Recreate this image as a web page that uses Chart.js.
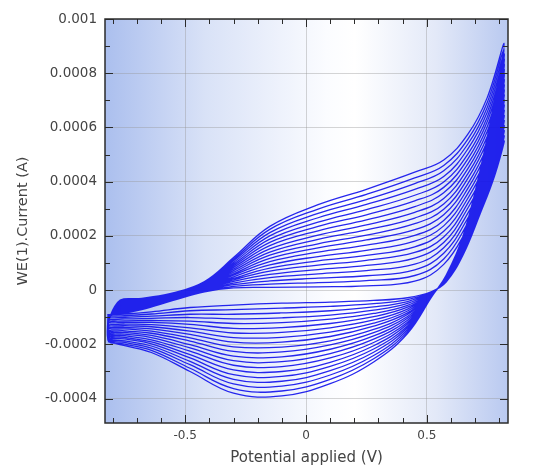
<!DOCTYPE html>
<html>
<head>
<meta charset="utf-8">
<script src="https://cdn.jsdelivr.net/npm/chart.js@4.4.0/dist/chart.umd.min.js"></script>
<style>
  html, body { margin: 0; padding: 0; background: #fff; }
</style>
</head>
<body>
<canvas id="cvChart" width="549" height="467"></canvas>
<script>
// Potential grid (V) for the anodic (forward) and cathodic (reverse) sweeps
const forwardPotential = [-0.78, -0.68, -0.55, -0.42, -0.3, -0.15, 0.05, 0.25, 0.45, 0.57, 0.67, 0.75, 0.82];
const reversePotential = [0.78, 0.72, 0.65, 0.58, 0.52, 0.42, 0.28, 0.1, -0.1, -0.3, -0.48, -0.64, -0.75, -0.82];

// Current in units of 1e-4 A, one row per cycle (first cycle = innermost loop)
const anodicCurrent = [
  [-0.90, -0.72, -0.38, -0.06, 0.08, 0.10, 0.12, 0.16, 0.33, 0.95, 2.30, 3.70, 5.50],
  [-0.88, -0.70, -0.37, -0.04, 0.14, 0.22, 0.28, 0.35, 0.54, 1.15, 2.48, 3.88, 5.69],
  [-0.86, -0.68, -0.35, -0.02, 0.20, 0.34, 0.44, 0.53, 0.75, 1.36, 2.66, 4.06, 5.88],
  [-0.84, -0.66, -0.34, 0.00, 0.26, 0.46, 0.60, 0.72, 0.96, 1.56, 2.84, 4.24, 6.07],
  [-0.81, -0.63, -0.32, 0.02, 0.32, 0.58, 0.76, 0.91, 1.18, 1.76, 3.03, 4.42, 6.26],
  [-0.79, -0.61, -0.31, 0.04, 0.38, 0.70, 0.92, 1.10, 1.39, 1.96, 3.21, 4.59, 6.45],
  [-0.76, -0.59, -0.29, 0.06, 0.43, 0.81, 1.08, 1.28, 1.60, 2.17, 3.39, 4.77, 6.64],
  [-0.74, -0.57, -0.28, 0.08, 0.49, 0.93, 1.24, 1.47, 1.81, 2.37, 3.57, 4.95, 6.83],
  [-0.72, -0.54, -0.26, 0.10, 0.55, 1.05, 1.40, 1.66, 2.02, 2.57, 3.75, 5.13, 7.02],
  [-0.69, -0.52, -0.25, 0.12, 0.60, 1.17, 1.56, 1.85, 2.23, 2.78, 3.93, 5.31, 7.21],
  [-0.67, -0.50, -0.23, 0.14, 0.66, 1.29, 1.71, 2.03, 2.45, 2.98, 4.12, 5.49, 7.39],
  [-0.64, -0.48, -0.22, 0.16, 0.72, 1.40, 1.87, 2.22, 2.66, 3.18, 4.30, 5.67, 7.58],
  [-0.62, -0.45, -0.20, 0.18, 0.78, 1.52, 2.03, 2.41, 2.87, 3.38, 4.48, 5.85, 7.77],
  [-0.60, -0.43, -0.19, 0.20, 0.84, 1.64, 2.19, 2.59, 3.08, 3.59, 4.66, 6.03, 7.96],
  [-0.57, -0.41, -0.17, 0.22, 0.90, 1.76, 2.35, 2.78, 3.29, 3.79, 4.84, 6.21, 8.15],
  [-0.55, -0.39, -0.16, 0.24, 0.96, 1.88, 2.51, 2.97, 3.50, 3.99, 5.02, 6.38, 8.34],
  [-0.52, -0.37, -0.14, 0.26, 1.02, 2.00, 2.67, 3.16, 3.72, 4.19, 5.21, 6.56, 8.53],
  [-0.50, -0.35, -0.13, 0.28, 1.08, 2.12, 2.83, 3.34, 3.93, 4.40, 5.39, 6.74, 8.72],
  [-0.48, -0.32, -0.11, 0.30, 1.14, 2.24, 2.99, 3.53, 4.14, 4.60, 5.57, 6.92, 8.91],
  [-0.45, -0.30, -0.10, 0.32, 1.20, 2.35, 3.15, 3.72, 4.35, 4.80, 5.75, 7.10, 9.10],
];

const cathodicCurrent = [
  [4.20, 2.80, 1.30, 0.30, -0.05, -0.28, -0.38, -0.44, -0.48, -0.55, -0.64, -0.80, -0.88, -0.90],
  [4.35, 2.88, 1.34, 0.31, -0.06, -0.35, -0.50, -0.60, -0.66, -0.72, -0.76, -0.88, -0.94, -0.95],
  [4.49, 2.97, 1.37, 0.33, -0.07, -0.42, -0.62, -0.76, -0.84, -0.89, -0.89, -0.96, -1.00, -1.01],
  [4.64, 3.05, 1.41, 0.34, -0.08, -0.49, -0.74, -0.92, -1.02, -1.06, -1.01, -1.04, -1.06, -1.06],
  [4.79, 3.14, 1.45, 0.35, -0.09, -0.56, -0.86, -1.07, -1.20, -1.23, -1.14, -1.12, -1.13, -1.11],
  [4.94, 3.22, 1.48, 0.37, -0.10, -0.63, -0.98, -1.23, -1.38, -1.41, -1.26, -1.19, -1.19, -1.16],
  [5.08, 3.31, 1.52, 0.38, -0.11, -0.70, -1.10, -1.39, -1.56, -1.58, -1.39, -1.27, -1.25, -1.22],
  [5.23, 3.39, 1.56, 0.39, -0.12, -0.77, -1.22, -1.55, -1.74, -1.75, -1.51, -1.35, -1.31, -1.27],
  [5.38, 3.47, 1.59, 0.41, -0.13, -0.84, -1.33, -1.71, -1.92, -1.92, -1.63, -1.43, -1.37, -1.32],
  [5.53, 3.56, 1.63, 0.42, -0.14, -0.90, -1.45, -1.87, -2.10, -2.09, -1.76, -1.51, -1.43, -1.37],
  [5.67, 3.64, 1.67, 0.43, -0.16, -0.97, -1.57, -2.02, -2.28, -2.26, -1.88, -1.59, -1.50, -1.43],
  [5.82, 3.73, 1.71, 0.44, -0.17, -1.04, -1.69, -2.18, -2.46, -2.43, -2.01, -1.67, -1.56, -1.48],
  [5.97, 3.81, 1.74, 0.46, -0.18, -1.11, -1.81, -2.34, -2.64, -2.60, -2.13, -1.75, -1.62, -1.53],
  [6.12, 3.89, 1.78, 0.47, -0.19, -1.18, -1.93, -2.50, -2.82, -2.77, -2.25, -1.83, -1.68, -1.58],
  [6.26, 3.98, 1.82, 0.48, -0.20, -1.25, -2.05, -2.66, -3.00, -2.94, -2.38, -1.91, -1.74, -1.63],
  [6.41, 4.06, 1.85, 0.50, -0.21, -1.32, -2.17, -2.81, -3.18, -3.12, -2.50, -1.98, -1.80, -1.69],
  [6.56, 4.15, 1.89, 0.51, -0.22, -1.39, -2.29, -2.97, -3.36, -3.29, -2.63, -2.06, -1.87, -1.74],
  [6.71, 4.23, 1.93, 0.52, -0.23, -1.46, -2.41, -3.13, -3.54, -3.46, -2.75, -2.14, -1.93, -1.79],
  [6.85, 4.32, 1.96, 0.54, -0.24, -1.53, -2.53, -3.29, -3.72, -3.63, -2.88, -2.22, -1.99, -1.84],
  [7.00, 4.40, 2.00, 0.55, -0.25, -1.60, -2.65, -3.45, -3.90, -3.80, -3.00, -2.30, -2.05, -1.90],
];

// Axis ticks
const xMajorTicks = [-0.5, 0, 0.5];
const xMinorTicks = [-0.8, -0.7, -0.6, -0.4, -0.3, -0.2, -0.1, 0.1, 0.2, 0.3, 0.4, 0.6, 0.7, 0.8];
const yMajorTicks = [-0.0004, -0.0002, 0, 0.0002, 0.0004, 0.0006, 0.0008, 0.001];
const yMinorTicks = [-0.0003, -0.0001, 0.0001, 0.0003, 0.0005, 0.0007, 0.0009];

// Chain all cycles into one continuous trace, as the potentiostat records it
const cvPoints = [];
anodicCurrent.forEach((row, k) => {
  row.forEach((v, i) => cvPoints.push({ x: forwardPotential[i], y: v * 1e-4 }));
  cathodicCurrent[k].forEach((v, i) => cvPoints.push({ x: reversePotential[i], y: v * 1e-4 }));
});

// Blue-white-blue plot background
const plotBackground = {
  id: "plotBackground",
  beforeDraw(chart) {
    const { ctx, chartArea: a } = chart;
    const g = ctx.createLinearGradient(a.left, 0, a.right, 0);
    g.addColorStop(0, "#abbfee");
    g.addColorStop(0.25, "#d9e2f7");
    g.addColorStop(0.55, "#fbfcff");
    g.addColorStop(0.62, "#ffffff");
    g.addColorStop(0.82, "#e3e9f8");
    g.addColorStop(1, "#b9c9f0");
    ctx.save();
    ctx.fillStyle = g;
    ctx.fillRect(a.left, a.top, a.right - a.left, a.bottom - a.top);
    ctx.restore();
  },
};

// Frame with inward tick marks on all four sides
const frameTicks = {
  id: "frameTicks",
  afterDraw(chart) {
    const { ctx, chartArea: a, scales } = chart;
    ctx.save();
    ctx.strokeStyle = "#2b2b2b";
    ctx.lineWidth = 1;
    const mark = (vals, len) => {
      vals.forEach((v) => {
        const px = Math.round(scales.x.getPixelForValue(v)) + 0.5;
        ctx.beginPath();
        ctx.moveTo(px, a.bottom); ctx.lineTo(px, a.bottom - len);
        ctx.moveTo(px, a.top); ctx.lineTo(px, a.top + len);
        ctx.stroke();
      });
    };
    const markY = (vals, len) => {
      vals.forEach((v) => {
        const py = Math.round(scales.y.getPixelForValue(v)) + 0.5;
        ctx.beginPath();
        ctx.moveTo(a.left, py); ctx.lineTo(a.left + len, py);
        ctx.moveTo(a.right, py); ctx.lineTo(a.right - len, py);
        ctx.stroke();
      });
    };
    mark(xMajorTicks, 8);
    mark(xMinorTicks, 5);
    markY(yMajorTicks, 8);
    markY(yMinorTicks, 5);
    ctx.lineWidth = 1.5;
    ctx.strokeRect(a.left, a.top, a.right - a.left, a.bottom - a.top);
    ctx.restore();
  },
};

const fontFamily = "'DejaVu Sans', Verdana, sans-serif";

new Chart(document.getElementById("cvChart").getContext("2d"), {
  type: "line",
  data: {
    datasets: [
      {
        data: cvPoints,
        borderColor: "rgba(15, 15, 235, 0.9)",
        borderWidth: 1.3,
        pointRadius: 0,
        tension: 0.4,
        fill: false,
      },
    ],
  },
  options: {
    responsive: false,
    animation: false,
    layout: { padding: { left: 0, top: 19, right: 41, bottom: 0 } },
    plugins: { legend: { display: false }, tooltip: { enabled: false } },
    scales: {
      x: {
        type: "linear",
        min: -0.832,
        max: 0.836,
        afterBuildTicks: (s) => { s.ticks = xMajorTicks.map((v) => ({ value: v })); },
        afterFit: (s) => { s.height = 44; },
        grid: { color: "rgba(150, 150, 150, 0.4)", drawTicks: false },
        border: { display: false },
        ticks: { color: "#444", font: { family: fontFamily, size: 12 }, padding: 6, maxRotation: 0, callback: (v) => String(v) },
        title: {
          display: true,
          text: "Potential applied (V)",
          color: "#444",
          font: { family: fontFamily, size: 15 },
          padding: { top: 0, bottom: 0 },
        },
      },
      y: {
        type: "linear",
        min: -0.00049,
        max: 0.001,
        afterBuildTicks: (s) => { s.ticks = yMajorTicks.map((v) => ({ value: v })); },
        afterFit: (s) => { s.width = 105; },
        grid: { color: "rgba(150, 150, 150, 0.4)", drawTicks: false },
        border: { display: false },
        ticks: { color: "#444", font: { family: fontFamily, size: 13.5 }, padding: 8, callback: (v) => String(v) },
        title: {
          display: true,
          text: "WE(1).Current (A)",
          color: "#444",
          font: { family: fontFamily, size: 14.5 },
          padding: { top: 15, bottom: 0 },
        },
      },
    },
  },
  plugins: [plotBackground, frameTicks],
});
</script>
</body>
</html>
